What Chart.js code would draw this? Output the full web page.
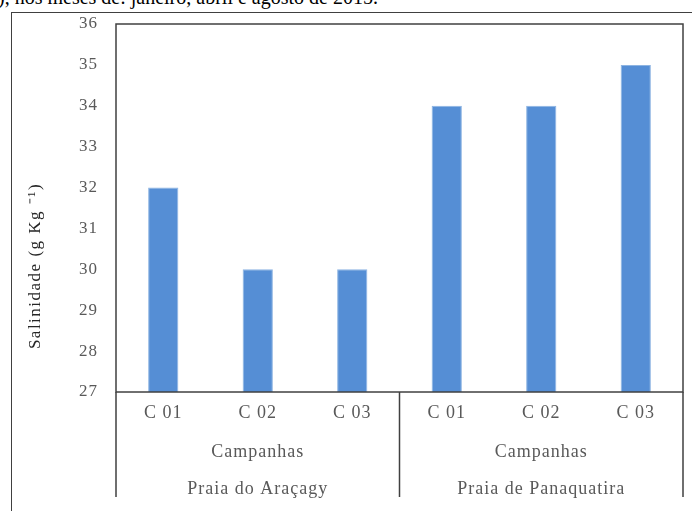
<!DOCTYPE html>
<html>
<head>
<meta charset="utf-8">
<script src="https://cdn.jsdelivr.net/npm/chart.js@4.4.0/dist/chart.umd.min.js"></script>
<style>
  body { margin: 0; background: #fff; overflow: hidden; }
  #wrap { position: relative; width: 692px; height: 511px; }
  #caption {
    position: absolute; left: -2px; top: -13px; white-space: nowrap;
    font: 20px "Liberation Serif", serif; line-height: 20px; color: #000;
  }
  #frame {
    position: absolute; left: 11px; top: 12px; width: 700px; height: 520px;
    border: 1px solid #404040;
  }
  #box { position: absolute; left: 0; top: 0; width: 692px; height: 511px; }
</style>
</head>
<body>
<div id="wrap">
  <div id="caption">), nos meses de: janeiro, abril e agosto de 2015.</div>
  <div id="frame"></div>
  <div id="box"><canvas id="salChart"></canvas></div>
</div>
<script>
// chart data
const campaigns = ["C 01", "C 02", "C 03", "C 01", "C 02", "C 03"];
const beaches = ["Praia do Araçagy", "Praia de Panaquatira"];
const groupTitle = "Campanhas";
const salinity = [32, 30, 30, 34, 34, 35];
const yMin = 27;
const yMax = 36;
const yTitle = "Salinidade (g Kg \u207B\u00B9)";

const serif = '"Liberation Serif", "Times New Roman", serif';
const gray = "#595959";

// spacing out the letters like the original Word chart
const spacingPlugin = {
    id: "spacing",
    beforeDraw(chart) {
        chart.ctx.letterSpacing = "1px";
    }
};

// plot box, group separators and the group labels under the axis
const groupPlugin = {
    id: "groups",
    afterDraw(chart) {
        const ctx = chart.ctx;
        const area = chart.chartArea;
        const x = chart.scales.x;
        const half = (x.getPixelForValue(1) - x.getPixelForValue(0)) / 2;
        const per = campaigns.length / beaches.length;

        ctx.save();
        ctx.strokeStyle = "#404040";
        ctx.lineWidth = 1.5;
        ctx.strokeRect(area.left, area.top, area.right - area.left, area.bottom - area.top);

        // separators
        ctx.beginPath();
        for (let g = 0; g <= beaches.length; g++) {
            const idx = Math.min(g * per, campaigns.length - 1);
            const px = g * per < campaigns.length ? x.getPixelForValue(idx) - half : x.getPixelForValue(idx) + half;
            ctx.moveTo(px, area.bottom);
            ctx.lineTo(px, area.bottom + 105);
        }
        ctx.stroke();

        ctx.font = "18px " + serif;
        ctx.fillStyle = gray;
        ctx.textAlign = "center";
        ctx.textBaseline = "middle";
        beaches.forEach((name, g) => {
            const cx = (x.getPixelForValue(g * per) + x.getPixelForValue(g * per + per - 1)) / 2;
            ctx.fillText(groupTitle, cx, area.bottom + 60);
            ctx.fillText(name, cx, area.bottom + 97);
        });

        // y axis title
        ctx.letterSpacing = "1.5px";
        ctx.font = "17px " + serif;
        ctx.translate(36, 266);
        ctx.rotate(-Math.PI / 2);
        ctx.fillStyle = "#262626";
        ctx.fillText(yTitle, 0, 0);
        ctx.restore();
    }
};

const ctx = document.getElementById("salChart").getContext("2d");
const salChart = new Chart(ctx, {
    type: "bar",
    data: {
        labels: campaigns,
        datasets: [{
            label: "Salinidade",
            data: salinity,
            backgroundColor: "#558ed5",
            borderColor: "#8db4e2",
            borderWidth: 1,
            barPercentage: 0.32,
            categoryPercentage: 1
        }]
    },
    options: {
        responsive: true,
        maintainAspectRatio: false,
        animation: false,
        layout: { padding: { top: 24, right: 9, left: 0, bottom: 0 } },
        plugins: {
            legend: { display: false },
            tooltip: { enabled: false }
        },
        scales: {
            x: {
                grid: { display: false, drawTicks: false },
                border: { display: false },
                ticks: { color: gray, font: { family: serif, size: 18 }, padding: 10 },
                afterFit(scale) { scale.height = 119; }
            },
            y: {
                min: yMin,
                max: yMax,
                grid: { display: false, drawTicks: false },
                border: { display: false },
                ticks: { stepSize: 1, color: gray, font: { family: serif, size: 17 }, padding: 18 },
                afterFit(scale) {
                    scale.width = 116;
                    // tick padding should not push the plot down
                    scale.paddingTop = 10;
                    scale.paddingBottom = 10;
                }
            }
        }
    },
    plugins: [spacingPlugin, groupPlugin]
});
</script>
</body>
</html>
